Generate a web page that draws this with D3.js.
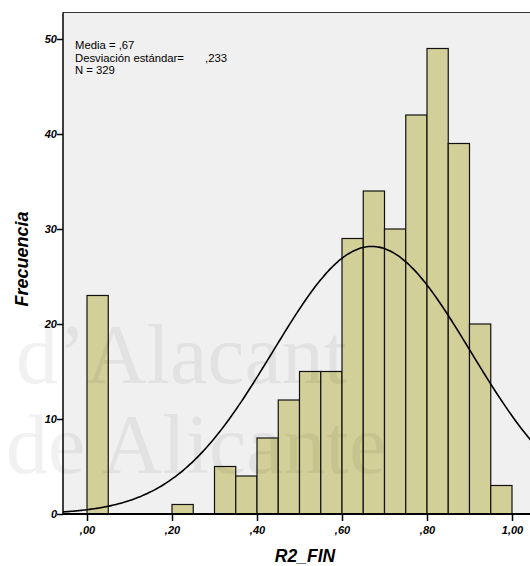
<!DOCTYPE html>
<html>
<head>
<meta charset="utf-8">
<script src="https://cdn.jsdelivr.net/npm/d3@7"></script>
<style>
  body { margin: 0; background: #fff; }
  text { font-family: "Liberation Sans", Arial, sans-serif; }
  text.wm { font-family: "Liberation Serif", "DejaVu Serif", serif; }
</style>
</head>
<body>
<div class="d3"></div>
<script>
// histogram bins (lower edge) and counts
let binStarts = [0.00, 0.05, 0.10, 0.15, 0.20, 0.25, 0.30, 0.35, 0.40, 0.45, 0.50, 0.55, 0.60, 0.65, 0.70, 0.75, 0.80, 0.85, 0.90, 0.95];
let counts = [23, 0, 0, 0, 1, 0, 5, 4, 8, 12, 15, 15, 29, 34, 30, 42, 49, 39, 20, 3];
let binWidth = 0.05;
let xTicks = [0, 0.2, 0.4, 0.6, 0.8, 1.0];
let xTickLabels = [',00', ',20', ',40', ',60', ',80', '1,00'];
let yTicks = [0, 10, 20, 30, 40, 50];
let statsLines = ['Media = ,67', 'Desviación estándar=', 'N = 329'];
let mean = 0.67, sd = 0.233, n = 329;

let width = 530;
let height = 566;
let plotLeft = 63, plotTop = 12.5, plotRight = 545, plotBottom = 514;

let svg = d3.select('.d3').append('svg')
  .attr('width', width)
  .attr('height', height);

let x = d3.scaleLinear().domain([0, 0.2]).range([87, 172]);
let y = d3.scaleLinear().domain([0, 50]).range([plotBottom, 39]);

// plot background
svg.append('rect')
  .attr('x', plotLeft).attr('y', plotTop)
  .attr('width', plotRight - plotLeft).attr('height', plotBottom - plotTop)
  .attr('fill', '#f0f0f0');

svg.append('line')
  .attr('x1', plotLeft).attr('x2', plotRight)
  .attr('y1', plotTop).attr('y2', plotTop)
  .attr('stroke', '#333').attr('stroke-width', 1.2);

// bars
svg.append('g').selectAll('rect')
  .data(binStarts.map((b, i) => ({ b: b, c: counts[i] })).filter(d => d.c > 0))
  .enter().append('rect')
  .attr('x', d => x(d.b))
  .attr('y', d => y(d.c))
  .attr('width', d => x(d.b + binWidth) - x(d.b))
  .attr('height', d => y(0) - y(d.c))
  .attr('fill', '#d3cf98')
  .attr('stroke', '#111')
  .attr('stroke-width', 1.2);

// normal curve from the stated mean / sd
let xmin = x.invert(plotLeft), xmax = x.invert(plotRight);
let curve = d3.range(0, 201).map(i => {
  let v = xmin + (xmax - xmin) * i / 200;
  let f = n * binWidth / (sd * Math.sqrt(2 * Math.PI)) * Math.exp(-0.5 * Math.pow((v - mean) / sd, 2));
  return [v, f];
});
svg.append('path')
  .datum(curve)
  .attr('fill', 'none')
  .attr('stroke', '#000')
  .attr('stroke-width', 1.6)
  .attr('d', d3.line().x(d => x(d[0])).y(d => y(d[1])).curve(d3.curveBasis));

// axes
let yAxis = svg.append('g')
  .attr('transform', `translate(${plotLeft},0)`)
  .call(d3.axisLeft(y).tickValues(yTicks).tickSize(6).tickFormat(d3.format('d')));
yAxis.select('.domain').attr('d', `M0,${plotTop}V${plotBottom}`).attr('stroke-width', 1.5);

let xAxis = svg.append('g')
  .attr('transform', `translate(0,${plotBottom})`)
  .call(d3.axisBottom(x).tickValues(xTicks).tickSize(7).tickFormat((d, i) => xTickLabels[i]));
xAxis.select('.domain').attr('d', `M${plotLeft},0H${plotRight}`).attr('stroke-width', 2);

svg.selectAll('.tick line').attr('stroke-width', 1.5);
svg.selectAll('.tick text')
  .attr('font-family', '"Liberation Sans", Arial, sans-serif')
  .attr('font-size', 11)
  .attr('font-weight', 'bold')
  .attr('font-style', 'italic')
  .attr('fill', '#000');
yAxis.selectAll('.tick text').attr('x', -6).attr('dy', '0.36em');
xAxis.selectAll('.tick text').attr('y', 12);

// axis titles
svg.append('text')
  .attr('x', 305).attr('y', 562)
  .attr('text-anchor', 'middle')
  .attr('font-size', 17.5).attr('font-weight', 'bold').attr('font-style', 'italic')
  .text('R2_FIN');

svg.append('text')
  .attr('transform', 'translate(28,259) rotate(-90)')
  .attr('text-anchor', 'middle')
  .attr('font-size', 18).attr('font-weight', 'bold').attr('font-style', 'italic')
  .text('Frecuencia');

// stats box
svg.append('g').selectAll('text')
  .data(statsLines)
  .enter().append('text')
  .attr('x', 75)
  .attr('y', (d, i) => 49 + i * 12.5)
  .attr('font-size', 11.3)
  .text(d => d);
svg.append('text')
  .attr('x', 205).attr('y', 61.5)
  .attr('font-size', 11.3)
  .text(',233');

// faint watermark from the scan
let wm = svg.append('g')
  .attr('fill', '#000')
  .attr('opacity', 0.05);
wm.append('text').attr('class', 'wm').attr('x', 16).attr('y', 383).attr('font-size', 84).text('d’Alacant');
wm.append('text').attr('class', 'wm').attr('x', 6).attr('y', 473).attr('font-size', 84).text('de Alicante');
</script>
</body>
</html>
